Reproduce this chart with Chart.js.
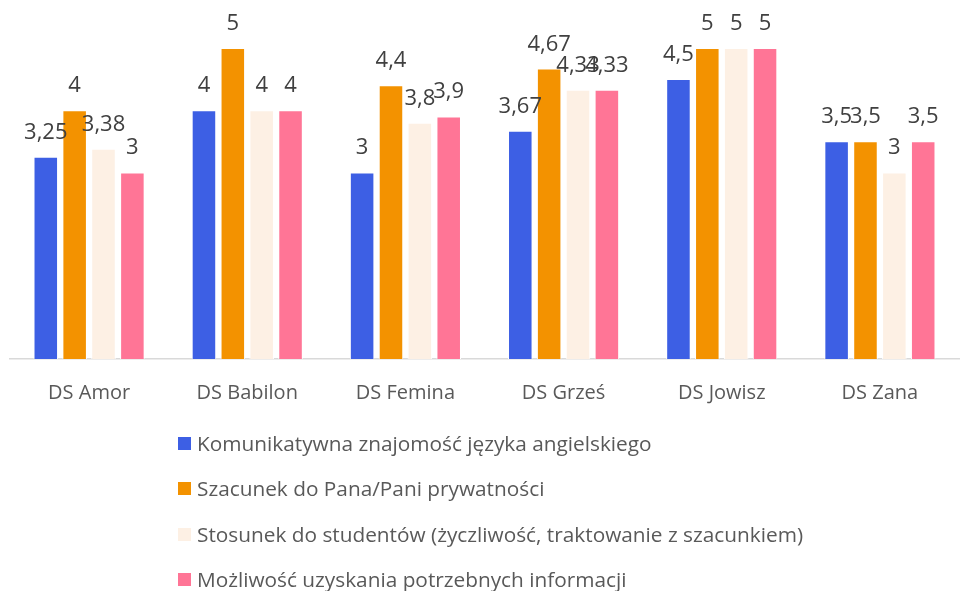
<!DOCTYPE html>
<html>
<head>
<meta charset="utf-8">
<script src="https://cdn.jsdelivr.net/npm/chart.js@4/dist/chart.umd.min.js"></script>
<style>
  body { margin: 0; background: #fff; }
  #wrap { position: relative; width: 960px; height: 591px; }
  #legend { position: absolute; left: 178px; top: 428px; font-family: "Open Sans", sans-serif; font-size: 20.8px; line-height: 30px; color: #595959; }
  #legend div { height: 45.3px; display: flex; align-items: flex-start; }
  #legend span.box { display: inline-block; width: 13px; height: 13px; margin: 9px 6px 0 0; }
</style>
</head>
<body>
<div id="wrap">
  <canvas id="myChart" width="960" height="591"></canvas>
  <div id="legend"></div>
</div>
<script>
const categories = ["DS Amor", "DS Babilon", "DS Femina", "DS Grześ", "DS Jowisz", "DS Zana"];
const seriesNames = [
  "Komunikatywna znajomość języka angielskiego",
  "Szacunek do Pana/Pani prywatności",
  "Stosunek do studentów (życzliwość, traktowanie z szacunkiem)",
  "Możliwość uzyskania potrzebnych informacji"
];
const english = [3.25, 4, 3, 3.67, 4.5, 3.5];
const privacy = [4, 5, 4.4, 4.67, 5, 3.5];
const attitude = [3.38, 4, 3.8, 4.33, 5, 3];
const information = [3, 4, 3.9, 4.33, 5, 3.5];
const colors = ["#3d5fe4", "#f39200", "#fdf0e4", "#ff7596"];

const values = [english, privacy, attitude, information];

// labels above the bars, with a decimal comma
const barLabels = {
  id: "barLabels",
  afterDatasetsDraw(chart) {
    const ctx = chart.ctx;
    ctx.save();
    ctx.font = "22px 'Open Sans', sans-serif";
    ctx.fillStyle = "#404040";
    ctx.textAlign = "center";
    ctx.textBaseline = "alphabetic";
    chart.data.datasets.forEach((ds, i) => {
      chart.getDatasetMeta(i).data.forEach((bar, j) => {
        ctx.fillText(String(ds.data[j]).replace(".", ","), bar.x, bar.y - 18);
      });
    });
    ctx.restore();
  }
};

const ctx = document.getElementById("myChart");
const chart = new Chart(ctx, {
  type: "bar",
  data: {
    labels: categories,
    datasets: values.map((v, i) => ({
      label: seriesNames[i],
      data: v,
      backgroundColor: colors[i],
      borderColor: "#ffffff",
      borderWidth: 1
    }))
  },
  options: {
    responsive: false,
    animation: false,
    categoryPercentage: 0.73,
    barPercentage: 0.85,
    layout: { padding: { top: 48, left: 10, right: 1, bottom: 172 } },
    plugins: { legend: { display: false }, tooltip: { enabled: false } },
    scales: {
      x: {
        grid: { display: false },
        border: { color: "#d9d9d9", width: 1.5 },
        ticks: { color: "#595959", font: { family: "'Open Sans', sans-serif", size: 20 }, padding: 14 }
      },
      y: { display: false, min: 0, max: 5 }
    }
  },
  plugins: [barLabels]
});

const legend = document.getElementById("legend");
seriesNames.forEach((name, i) => {
  const row = document.createElement("div");
  row.innerHTML = `<span class="box" style="background:${colors[i]}"></span>${name}`;
  legend.append(row);
});
</script>
</body>
</html>
